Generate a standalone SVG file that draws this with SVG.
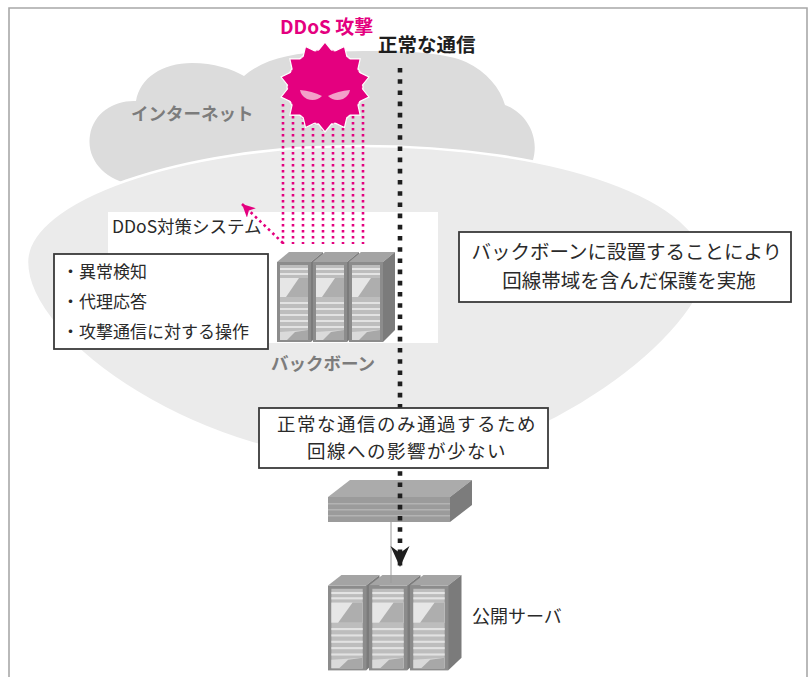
<svg xmlns="http://www.w3.org/2000/svg" xmlns:xlink="http://www.w3.org/1999/xlink" width="809" height="677" viewBox="0 0 809 677">
  <style>
    .jp { font-family: "Noto Sans CJK JP", "Noto Sans", sans-serif; }
    .box { fill: #ffffff; stroke: #3a3a3a; stroke-width: 1.8; }
    .txt { fill: #2a2a2a; }
    .label-gray { fill: #7c7c7c; font-weight: bold; }
    .attack { fill: none; stroke: #e4007f; stroke-width: 2.6; stroke-dasharray: 2.6 3.4; }
    .normal { fill: none; stroke: #1e1e1e; stroke-width: 4.6; stroke-dasharray: 4.6 6.6; }
  </style>
  <defs>
    <!-- one rack cabinet: top face, side face, front panel with drive bays -->
    <g id="rack-unit">
      <polygon points="0,10 12,0 46,0 34,10" fill="#a4a4a4"/>
      <polygon points="34,10 46,0 46,78 34,90" fill="#7b7b7b"/>
      <rect x="0" y="10" width="34" height="80" fill="#8c8c8c"/>
      <rect x="3" y="13" width="28" height="75" fill="#bdbdbd"/>
      <rect x="3" y="16" width="28" height="2" fill="#e4e4e4"/>
      <rect x="3" y="21" width="28" height="2" fill="#e4e4e4"/>
      <rect x="3" y="26" width="28" height="19" fill="#e6e6e6"/>
      <polygon points="22,26 31,26 31,45 9,45" fill="#aeaeae"/>
      <rect x="3" y="50" width="28" height="2" fill="#e2e2e2"/>
      <rect x="3" y="56" width="28" height="2" fill="#e2e2e2"/>
      <rect x="3" y="62" width="28" height="2" fill="#e2e2e2"/>
      <rect x="3" y="68" width="28" height="2" fill="#e2e2e2"/>
      <rect x="3" y="74" width="28" height="2" fill="#e2e2e2"/>
      <polygon points="3,80 31,78 31,88 3,88" fill="#dadada"/>
      <polygon points="18,80 31,78 31,88 10,88" fill="#a8a8a8"/>
    </g>
    <marker id="pink-head" markerUnits="userSpaceOnUse" markerWidth="14" markerHeight="14" refX="13" refY="6.5" orient="auto">
      <path d="M0,0 L13,6.5 L0,13 L3.5,6.5 Z" fill="#e4007f"/>
    </marker>
    <marker id="black-head" markerUnits="userSpaceOnUse" markerWidth="22" markerHeight="20" refX="21" refY="9.5" orient="auto">
      <path d="M0,0 L21,9.5 L0,19 L7,9.5 Z" fill="#1e1e1e"/>
    </marker>
  </defs>

  <rect x="0" y="0" width="809" height="677" fill="#ffffff"/>
  <!-- outer frame -->
  <path d="M9,677 V8 H807 V677" fill="none" stroke="#a8a8a8" stroke-width="1.6"/>

  <!-- internet cloud -->
  <g id="internet">
    <path d="M133,185 C105,180 86,160 90,135 C94,112 115,100 136,101 C140,78 162,63 192,63 C214,63 232,69 244,76 C262,60 292,52 330,52 C380,50 440,50 466,62 C487,72 500,88 505,105 C525,112 540,135 533,160 C528,180 515,190 495,192 L133,192 Z" fill="#dcdcdc"/>
    <text class="jp label-gray" x="131" y="120" font-size="17.5">インターネット</text>
  </g>

  <!-- backbone area -->
  <g id="backbone">
    <path d="M27,262 C27,200 180,146 360,146 C560,146 706,200 706,268 C706,330 540,464 390,464 C200,464 27,340 27,262 Z" fill="#ebebeb" stroke="#ffffff" stroke-width="2.5"/>
    <text class="jp label-gray" x="271" y="370" font-size="17.5">バックボーン</text>
  </g>

  <!-- DDoS mitigation system -->
  <g id="ddos-system">
    <rect x="108" y="212" width="330" height="131" fill="#ffffff"/>
    <text class="jp txt" x="112" y="233" font-size="17.5">DDoS対策システム</text>
    <use xlink:href="#rack-unit" x="277" y="252"/>
    <use xlink:href="#rack-unit" x="313" y="252"/>
    <use xlink:href="#rack-unit" x="349" y="252"/>
  </g>

  <g id="functions">
    <rect class="box" x="54" y="254" width="214" height="95"/>
    <text class="jp txt" font-size="17">
      <tspan x="62" y="278">・異常検知</tspan>
      <tspan x="62" y="308">・代理応答</tspan>
      <tspan x="62" y="338">・攻撃通信に対する操作</tspan>
    </text>
  </g>

  <!-- edge switch -->
  <g id="switch">
    <polygon points="328,497 350,480 472,480 450,497" fill="#ababab"/>
    <rect x="328" y="497" width="122" height="25" fill="#9b9b9b"/>
    <rect x="328" y="503" width="122" height="1.5" fill="#b3b3b3"/>
    <rect x="328" y="509" width="122" height="1.5" fill="#b3b3b3"/>
    <rect x="328" y="515" width="122" height="1.5" fill="#b3b3b3"/>
    <polygon points="450,497 472,480 472,505 450,522" fill="#7c7c7c"/>
  </g>

  <!-- public servers -->
  <g id="public-servers">
    <g transform="translate(328,575) scale(1.12,1.06)">
      <use xlink:href="#rack-unit" x="0" y="0"/>
      <use xlink:href="#rack-unit" x="36.6" y="0"/>
      <use xlink:href="#rack-unit" x="73.2" y="0"/>
    </g>
    <text class="jp txt" x="472" y="623" font-size="18">公開サーバ</text>
  </g>

  <!-- traffic flows -->
  <g id="connectors">
    <g id="attack-traffic">
      <line class="attack" x1="283" y1="104" x2="283" y2="244"/>
      <line class="attack" x1="293" y1="104" x2="293" y2="244"/>
      <line class="attack" x1="303" y1="104" x2="303" y2="244"/>
      <line class="attack" x1="313" y1="104" x2="313" y2="244"/>
      <line class="attack" x1="323" y1="104" x2="323" y2="244"/>
      <line class="attack" x1="333" y1="104" x2="333" y2="244"/>
      <line class="attack" x1="343" y1="104" x2="343" y2="244"/>
      <line class="attack" x1="353" y1="104" x2="353" y2="244"/>
      <line class="attack" x1="363" y1="104" x2="363" y2="244"/>
      <line class="attack" x1="283" y1="243" x2="242" y2="204" marker-end="url(#pink-head)"/>
    </g>
    <line x1="391" y1="522" x2="391" y2="583" stroke="#9a9a9a" stroke-width="1"/>
    <line class="normal" x1="400" y1="68" x2="400" y2="567" marker-end="url(#black-head)"/>
  </g>

  <!-- attacker -->
  <g id="attacker">
    <circle cx="325" cy="87" r="38" fill="#e4007f" stroke="#ffffff" stroke-width="1.2"/>
    <polygon points="325,42 333,51.9 344.5,46.5 347.4,58.9 360.2,58.9 357.4,71.4 368.9,77 361,87 368.9,97 357.4,102.6 360.2,115.1 347.4,115.1 344.5,127.5 333,122.1 325,132 317,122.1 305.5,127.5 302.6,115.1 289.8,115.1 292.6,102.6 281.1,97 289,87 281.1,77 292.6,71.4 289.8,58.9 302.6,58.9 305.5,46.5 317,51.9" fill="#e4007f" stroke="#ffffff" stroke-width="1.2" stroke-linejoin="miter"/>
    <circle cx="325" cy="87" r="37" fill="#e4007f"/>
    <path d="M300,90 Q312,91 322,96 Q316,102 307,99 Q301,96 300,90 Z" fill="#f3a0c9"/>
    <path d="M350,90 Q338,91 328,96 Q334,102 343,99 Q349,96 350,90 Z" fill="#f3a0c9"/>
    <text class="jp" x="280" y="34" font-size="19" font-weight="bold" fill="#e4007f">DDoS 攻撃</text>
  </g>

  <g id="normal-label">
    <text class="jp" x="378" y="52" font-size="19.5" font-weight="bold" fill="#1e1e1e">正常な通信</text>
  </g>

  <g id="note-backbone">
    <rect class="box" x="459" y="232" width="332" height="70"/>
    <text class="jp txt" font-size="19.5" text-anchor="middle">
      <tspan x="629" y="259">バックボーンに設置することにより</tspan>
      <tspan x="629" y="288">回線帯域を含んだ保護を実施</tspan>
    </text>
  </g>

  <g id="note-line">
    <rect class="box" x="259" y="408" width="289" height="60"/>
    <text class="jp txt" x="407" y="431" font-size="18.5" letter-spacing="1.5" text-anchor="middle">正常な通信のみ通過するため</text>
    <text class="jp txt" x="407" y="458" font-size="18.5" letter-spacing="1.5" text-anchor="middle">回線への影響が少ない</text>
  </g>
</svg>
